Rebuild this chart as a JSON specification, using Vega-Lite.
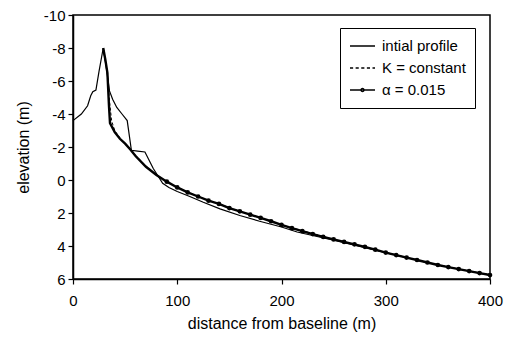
{
  "$schema": "https://vega.github.io/schema/vega-lite/v6.json",
  "width": 417,
  "height": 264,
  "autosize": {"type": "none"},
  "padding": {"left": 73, "top": 15, "right": 27, "bottom": 64},
  "background": "white",
  "config": {
    "view": {"stroke": "black", "strokeWidth": 1.5},
    "font": "Liberation Sans",
    "axis": {
      "grid": false,
      "domainColor": "black",
      "domainWidth": 1.5,
      "tickColor": "black",
      "tickWidth": 1.2,
      "tickSize": 5,
      "labelColor": "black",
      "labelFontSize": 15,
      "labelFont": "Liberation Sans",
      "titleColor": "black",
      "titleFont": "Liberation Sans",
      "titleFontSize": 16,
      "titleFontWeight": "normal"
    }
  },
  "data": {
    "values": [
      {"series": "intial profile", "d": 0, "z": -3.6},
      {"series": "intial profile", "d": 8, "z": -4.0},
      {"series": "intial profile", "d": 14, "z": -4.5},
      {"series": "intial profile", "d": 17, "z": -5.1},
      {"series": "intial profile", "d": 19, "z": -5.35},
      {"series": "intial profile", "d": 22, "z": -5.45},
      {"series": "intial profile", "d": 25, "z": -6.6},
      {"series": "intial profile", "d": 29, "z": -8.0},
      {"series": "intial profile", "d": 32, "z": -6.8},
      {"series": "intial profile", "d": 35, "z": -5.4},
      {"series": "intial profile", "d": 38, "z": -4.9},
      {"series": "intial profile", "d": 42, "z": -4.4},
      {"series": "intial profile", "d": 47, "z": -4.0},
      {"series": "intial profile", "d": 52, "z": -3.6},
      {"series": "intial profile", "d": 56, "z": -1.8},
      {"series": "intial profile", "d": 62, "z": -1.75},
      {"series": "intial profile", "d": 69, "z": -1.7},
      {"series": "intial profile", "d": 73, "z": -1.2},
      {"series": "intial profile", "d": 77, "z": -0.7},
      {"series": "intial profile", "d": 82, "z": -0.2},
      {"series": "intial profile", "d": 86, "z": 0.2},
      {"series": "intial profile", "d": 92, "z": 0.45},
      {"series": "intial profile", "d": 100, "z": 0.7},
      {"series": "intial profile", "d": 112, "z": 1.0},
      {"series": "intial profile", "d": 125, "z": 1.35},
      {"series": "intial profile", "d": 141, "z": 1.75},
      {"series": "intial profile", "d": 160, "z": 2.15},
      {"series": "intial profile", "d": 179, "z": 2.5},
      {"series": "intial profile", "d": 200, "z": 2.85},
      {"series": "intial profile", "d": 215, "z": 3.15},
      {"series": "intial profile", "d": 250, "z": 3.65},
      {"series": "intial profile", "d": 300, "z": 4.4},
      {"series": "intial profile", "d": 350, "z": 5.15},
      {"series": "intial profile", "d": 400, "z": 5.76},
      {"series": "K = constant", "d": 29, "z": -8.0},
      {"series": "K = constant", "d": 33, "z": -6.4},
      {"series": "K = constant", "d": 35, "z": -4.8},
      {"series": "K = constant", "d": 37, "z": -3.6},
      {"series": "K = constant", "d": 40, "z": -3.0},
      {"series": "K = constant", "d": 45, "z": -2.55},
      {"series": "K = constant", "d": 50, "z": -2.2},
      {"series": "K = constant", "d": 55, "z": -1.9},
      {"series": "K = constant", "d": 60, "z": -1.5},
      {"series": "K = constant", "d": 70, "z": -0.85},
      {"series": "K = constant", "d": 80, "z": -0.3},
      {"series": "K = constant", "d": 90, "z": 0.1},
      {"series": "K = constant", "d": 100, "z": 0.45},
      {"series": "K = constant", "d": 120, "z": 1.0},
      {"series": "K = constant", "d": 140, "z": 1.45},
      {"series": "K = constant", "d": 160, "z": 1.9},
      {"series": "K = constant", "d": 180, "z": 2.3},
      {"series": "K = constant", "d": 200, "z": 2.72},
      {"series": "K = constant", "d": 250, "z": 3.6},
      {"series": "K = constant", "d": 300, "z": 4.4},
      {"series": "K = constant", "d": 350, "z": 5.15},
      {"series": "K = constant", "d": 400, "z": 5.76},
      {"series": "α = 0.015", "d": 29, "z": -8.0},
      {"series": "α = 0.015", "d": 31, "z": -7.3},
      {"series": "α = 0.015", "d": 33, "z": -6.5},
      {"series": "α = 0.015", "d": 34.5, "z": -4.5},
      {"series": "α = 0.015", "d": 35.5, "z": -3.45},
      {"series": "α = 0.015", "d": 40, "z": -2.9},
      {"series": "α = 0.015", "d": 45, "z": -2.5},
      {"series": "α = 0.015", "d": 50, "z": -2.2},
      {"series": "α = 0.015", "d": 55, "z": -1.85},
      {"series": "α = 0.015", "d": 60, "z": -1.45},
      {"series": "α = 0.015", "d": 70, "z": -0.8},
      {"series": "α = 0.015", "d": 80, "z": -0.3},
      {"series": "α = 0.015", "d": 90, "z": 0.1},
      {"series": "α = 0.015", "d": 100, "z": 0.45},
      {"series": "α = 0.015", "d": 110, "z": 0.75},
      {"series": "α = 0.015", "d": 120, "z": 1.0},
      {"series": "α = 0.015", "d": 130, "z": 1.25},
      {"series": "α = 0.015", "d": 140, "z": 1.45},
      {"series": "α = 0.015", "d": 150, "z": 1.7},
      {"series": "α = 0.015", "d": 160, "z": 1.9},
      {"series": "α = 0.015", "d": 170, "z": 2.1},
      {"series": "α = 0.015", "d": 180, "z": 2.3},
      {"series": "α = 0.015", "d": 190, "z": 2.5},
      {"series": "α = 0.015", "d": 200, "z": 2.72},
      {"series": "α = 0.015", "d": 210, "z": 2.92},
      {"series": "α = 0.015", "d": 220, "z": 3.1},
      {"series": "α = 0.015", "d": 230, "z": 3.28},
      {"series": "α = 0.015", "d": 240, "z": 3.45},
      {"series": "α = 0.015", "d": 250, "z": 3.6},
      {"series": "α = 0.015", "d": 260, "z": 3.75},
      {"series": "α = 0.015", "d": 270, "z": 3.9},
      {"series": "α = 0.015", "d": 280, "z": 4.05},
      {"series": "α = 0.015", "d": 290, "z": 4.22},
      {"series": "α = 0.015", "d": 300, "z": 4.4},
      {"series": "α = 0.015", "d": 310, "z": 4.55},
      {"series": "α = 0.015", "d": 320, "z": 4.7},
      {"series": "α = 0.015", "d": 330, "z": 4.85},
      {"series": "α = 0.015", "d": 340, "z": 5.0},
      {"series": "α = 0.015", "d": 350, "z": 5.15},
      {"series": "α = 0.015", "d": 360, "z": 5.28},
      {"series": "α = 0.015", "d": 370, "z": 5.4},
      {"series": "α = 0.015", "d": 380, "z": 5.52},
      {"series": "α = 0.015", "d": 390, "z": 5.64},
      {"series": "α = 0.015", "d": 400, "z": 5.76}
    ]
  },
  "encoding": {
    "x": {
      "field": "d",
      "type": "quantitative",
      "scale": {"domain": [0, 400], "nice": false},
      "axis": {
        "title": "distance from baseline (m)",
        "values": [0, 100, 200, 300, 400],
        "labelPadding": 9,
        "titlePadding": 7,
        "labelFlush": false
      }
    },
    "y": {
      "field": "z",
      "type": "quantitative",
      "scale": {"domain": [-10, 6], "reverse": true, "nice": false, "zero": false},
      "axis": {
        "title": "elevation (m)",
        "values": [-10, -8, -6, -4, -2, 0, 2, 4, 6],
        "labelExpr": "datum.value + ''",
        "labelPadding": 3,
        "titlePadding": 12,
        "labelFlush": false
      }
    }
  },
  "layer": [
    {
      "transform": [{"filter": "datum.series == 'intial profile'"}],
      "mark": {"type": "line", "color": "black", "strokeWidth": 1.2}
    },
    {
      "transform": [{"filter": "datum.series == 'K = constant'"}],
      "mark": {"type": "line", "color": "black", "strokeWidth": 1, "strokeDash": [3, 2]}
    },
    {
      "transform": [{"filter": "datum.series == 'α = 0.015'"}],
      "mark": {"type": "line", "color": "black", "strokeWidth": 2.4}
    },
    {
      "transform": [{"filter": "datum.series == 'α = 0.015' && datum.d >= 90"}],
      "mark": {"type": "circle", "color": "black", "size": 22, "opacity": 1}
    },
    {
      "transform": [{"filter": "datum.series == 'none'"}],
      "mark": {"type": "point", "filled": false, "stroke": "black", "strokeWidth": 1.3, "size": 625},
      "encoding": {
        "shape": {
          "field": "series",
          "type": "nominal",
          "scale": {
            "domain": ["intial profile", "K = constant", "α = 0.015"],
            "range": [
              "M-1,0H1",
              "M-1,0H-0.75M-0.55,0H-0.3M-0.1,0H0.15M0.35,0H0.6M0.8,0H1",
              "M-1,0H1M0.13,0A0.13,0.13 0 1 1 -0.13,0A0.13,0.13 0 1 1 0.13,0"
            ]
          },
          "legend": {
            "title": null,
            "orient": "none",
            "legendX": 267,
            "legendY": 13,
            "padding": 9,
            "strokeColor": "black",
            "fillColor": "white",
            "labelFontSize": 15,
            "labelFont": "Liberation Sans",
            "labelColor": "black",
            "labelOffset": 6,
            "symbolSize": 625,
            "symbolStrokeColor": "black",
            "symbolStrokeWidth": 1.3,
            "symbolOpacity": 1,
            "clipHeight": 18,
            "rowPadding": 4
          }
        }
      }
    }
  ]
}
